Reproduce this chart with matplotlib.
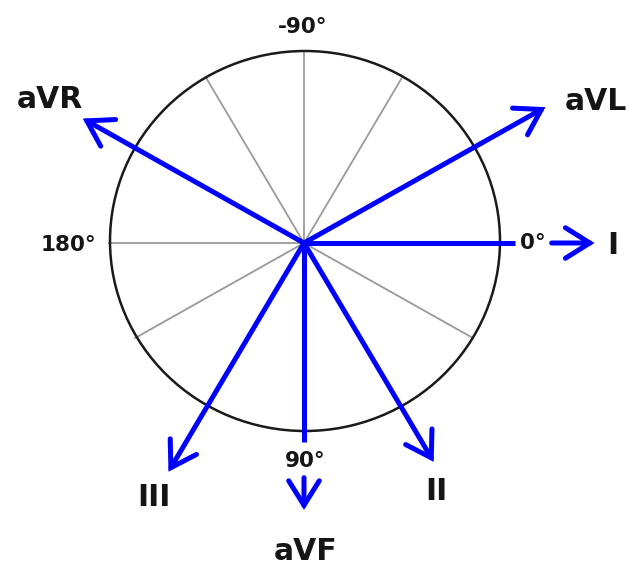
import numpy as np
import matplotlib
matplotlib.use("Agg")
import matplotlib.pyplot as plt
from matplotlib.patches import Ellipse

# Data: hexaxial leads and their angles (degrees, ECG convention: +down)
leads = ["I", "aVL", "aVR", "II", "III", "aVF"]
lead_angles = [0, -30, -150, 60, 120, 90]
grid_angles = [0, 30, 60, 90, 120, 150, 180, -150, -120, -90, -60, -30]
degree_labels = ["0°", "90°", "180°", "-90°"]
degree_angles = [0, 90, 180, -90]

# Layout (pixels)
W, H = 629, 568
cx, cy = 304, 243
rx, ry = 195, 190
tip_r = {"I": 1.49, "aVL": 1.43, "aVR": 1.31, "II": 1.33, "III": 1.39, "aVF": 1.405}
split = {"I": (1.08, 1.27), "aVF": (1.045, 1.235)}
lead_label_px = {"I": (613, 246), "aVL": (596, 101), "aVR": (50, 100),
                 "II": (436, 491), "III": (154, 497), "aVF": (306, 551)}
deg_label_px = {"0°": (533, 243), "90°": (305, 461), "180°": (68, 245), "-90°": (303, 27)}

BLUE = "#0000ff"

fig = plt.figure(figsize=(W / 100, H / 100), dpi=100)
ax = fig.add_axes([0, 0, 1, 1])
ax.set_xlim(0, W)
ax.set_ylim(H, 0)
ax.axis("off")


def pt(angle, r):
    a = np.deg2rad(angle)
    return cx + r * rx * np.cos(a), cy + r * ry * np.sin(a)


# gray spokes
for g in grid_angles:
    x1, y1 = pt(g, 1.0)
    ax.plot([cx, x1], [cy, y1], color="#9a9a9a", lw=1.3, zorder=1)

# circle
ax.add_patch(Ellipse((cx + 1, cy - 2), 2 * rx, 2 * ry, fill=False,
                     edgecolor="#1a1a1a", lw=1.8, zorder=2))

arrow_kw = dict(arrowstyle="->,head_length=0.8,head_width=0.5",
                color=BLUE, lw=3.6, shrinkA=0, shrinkB=0, mutation_scale=22,
                capstyle="round", joinstyle="miter")

for name, ang in zip(leads, lead_angles):
    if name in split:
        r1, r2 = split[name]
        x1, y1 = pt(ang, r1)
        ax.plot([cx, x1], [cy, y1], color=BLUE, lw=3.6, solid_capstyle="butt", zorder=3)
        xs, ys = pt(ang, r2)
        xt, yt = pt(ang, tip_r[name])
        ax.annotate("", xy=(xt, yt), xytext=(xs, ys), arrowprops=arrow_kw, zorder=3)
    else:
        xt, yt = pt(ang, tip_r[name])
        ax.annotate("", xy=(xt, yt), xytext=(cx, cy), arrowprops=arrow_kw, zorder=3)

for name in leads:
    x, y = lead_label_px[name]
    ax.text(x, y, name, fontsize=21.5, fontweight="bold", color="#151515",
            ha="center", va="center", family="DejaVu Sans")

for lab in degree_labels:
    x, y = deg_label_px[lab]
    ax.text(x, y, lab, fontsize=15.5, fontweight="bold", color="#151515",
            ha="center", va="center", family="DejaVu Sans")

fig.savefig("out.png", dpi=100, facecolor="white")
